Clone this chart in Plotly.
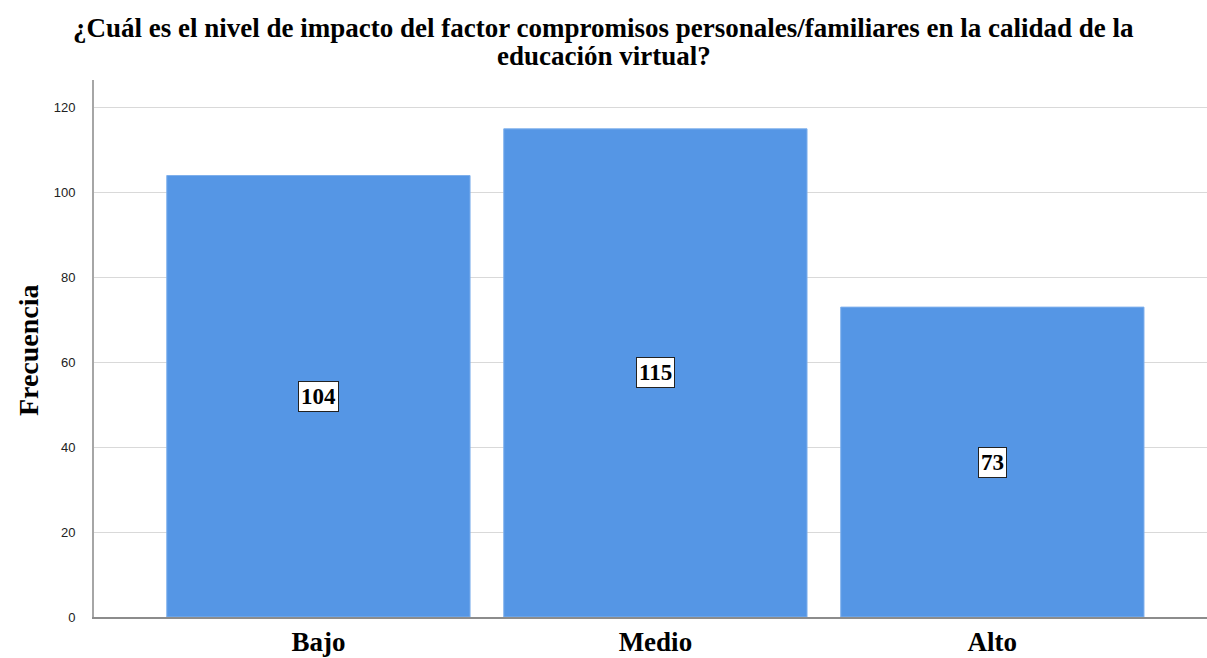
import plotly.graph_objects as go

# data
categorias = ["Bajo", "Medio", "Alto"]
frecuencias = [104, 115, 73]
y_ticks = [0, 20, 40, 60, 80, 100, 120]

titulo_1 = "¿Cuál es el nivel de impacto del factor compromisos personales/familiares en la calidad de la"
titulo_2 = "educación virtual?"

serif = "Liberation Serif, Times New Roman, serif"

fig = go.Figure()
fig.add_trace(go.Bar(
    x=categorias,
    y=frecuencias,
    marker=dict(color="#5596e5", line=dict(color="#7fb0ec", width=1)),
    hoverinfo="x+y",
))

# value labels in boxes at mid height of each bar
for cat, val in zip(categorias, frecuencias):
    fig.add_annotation(
        x=cat, y=val / 2, text="<b>" + str(val) + "</b>", showarrow=False,
        font=dict(family=serif, size=23, color="black"),
        bgcolor="white", bordercolor="#222", borderwidth=1, borderpad=2,
    )

# two-line title (pixel centre of the full figure)
for texto, ypos in [(titulo_1, 1.0968), (titulo_2, 1.0447)]:
    fig.add_annotation(
        xref="paper", yref="paper", x=0.4578, y=ypos,
        xanchor="center", yanchor="middle", showarrow=False,
        text="<b>" + texto + "</b>",
        font=dict(family=serif, size=27, color="black"),
    )

# y axis title
fig.add_annotation(
    xref="paper", yref="paper", x=-0.0593, y=0.497,
    xanchor="center", yanchor="middle", showarrow=False, textangle=-90,
    text="<b>Frecuencia</b>",
    font=dict(family=serif, size=28, color="black"),
)

fig.update_layout(
    width=1207, height=658,
    margin=dict(l=94, r=0, t=80, b=41),
    paper_bgcolor="white", plot_bgcolor="white",
    bargap=0.1,
    showlegend=False,
)

fig.update_xaxes(
    range=[-0.666, 2.637],
    automargin=False,
    showgrid=False,
    showline=True, linecolor="#8c8c8c", linewidth=2,
    ticks="", ticklen=0,
    tickfont=dict(family=serif, size=27, color="black", weight="bold"),
)

fig.update_yaxes(
    range=[0, 126.5],
    automargin=False,
    tickvals=y_ticks,
    showgrid=True, gridcolor="#d9d9d9", gridwidth=1,
    showline=True, linecolor="#a6a6a6", linewidth=2,
    zeroline=False,
    ticks="outside", ticklen=14, tickcolor="rgba(0,0,0,0)",
    tickfont=dict(family="Liberation Sans, Arial, sans-serif", size=13, color="#222"),
)

fig.write_html("out.html", config={"displayModeBar": False},
               post_script="document.body.style.margin='0';")
